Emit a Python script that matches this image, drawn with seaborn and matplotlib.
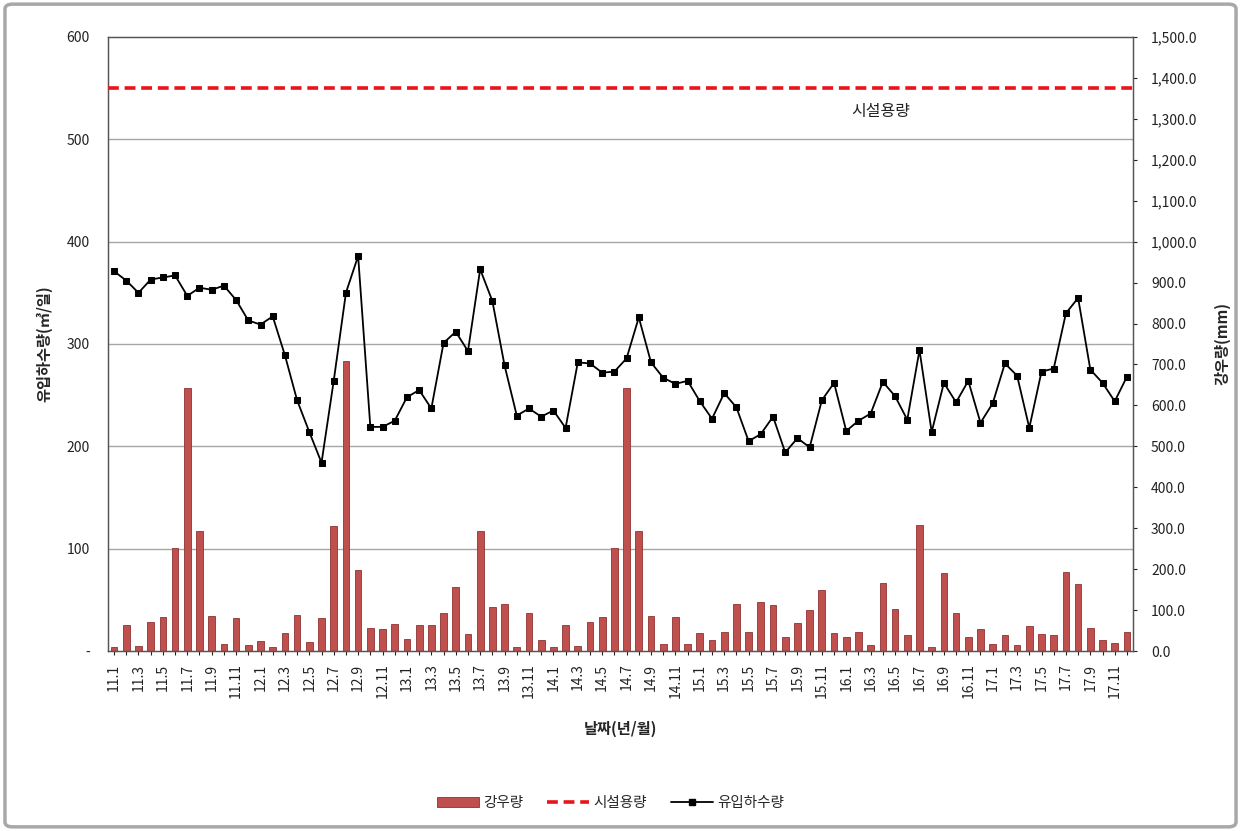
import matplotlib
matplotlib.use("Agg")
import matplotlib.pyplot as plt
import seaborn as sns
import numpy as np
from matplotlib.patches import Patch, FancyBboxPatch
from matplotlib.lines import Line2D
from matplotlib.ticker import FuncFormatter

# ---- data (2011.1 ~ 2017.12, monthly) ----
months = [f"{y}.{m}" for y in range(11, 18) for m in range(1, 13)]

# 유입하수량 (m3/day), left axis
inflow = [371, 362, 350, 363, 365, 367, 347, 355, 353, 357, 343, 323,
          319, 327, 289, 245, 214, 184, 264, 350, 386, 219, 219, 225,
          248, 255, 237, 301, 312, 293, 373, 342, 279, 230, 237, 229,
          235, 218, 282, 281, 272, 273, 286, 326, 282, 267, 261, 264,
          244, 227, 252, 238, 205, 212, 229, 194, 208, 199, 245, 262,
          215, 225, 232, 263, 249, 226, 294, 214, 262, 243, 264, 223,
          242, 281, 269, 218, 273, 276, 330, 345, 275, 262, 244, 268]

# 강우량 (mm), right axis
rain = [9, 64, 12, 72, 84, 251, 643, 293, 86, 16, 81, 15,
        24, 9, 45, 88, 23, 81, 305, 709, 198, 55, 54, 65,
        29, 64, 64, 92, 156, 41, 293, 108, 114, 11, 94, 27,
        9, 64, 12, 72, 84, 251, 643, 293, 86, 16, 83, 16,
        43, 27, 46, 114, 47, 120, 112, 33, 68, 99, 149, 45,
        35, 47, 15, 165, 102, 38, 308, 11, 191, 92, 33, 53,
        17, 38, 14, 62, 41, 38, 194, 163, 55, 27, 19, 47]

capacity = 550  # 시설용량

idx = np.arange(len(months))

# ---- plot ----
sns.set_style("white")
plt.rcParams["font.family"] = ["Noto Sans CJK KR", "DejaVu Sans"]

fig = plt.figure(figsize=(12.41, 8.31), dpi=100)
ax1 = fig.add_axes([0.087, 0.2166, 0.826, 0.7389])
ax2 = ax1.twinx()

bar_color = "#C0504D"
sns.barplot(x=idx, y=rain, ax=ax2, color=bar_color, saturation=1,
            width=0.55, edgecolor="#8E3432", linewidth=0.6, zorder=2)

# gridlines behind the bars (left-axis steps of 100 -> 250 mm)
for v in range(100, 600, 100):
    ax2.axhline(v * 2.5, color="#a6a6a6", lw=1.0, zorder=0)

sns.lineplot(x=idx, y=inflow, ax=ax1, color="black", marker="s",
             markersize=5, markeredgecolor="black", lw=1.3, zorder=3)
ax1.axhline(capacity, color="#E8141B", ls=(0, (3, 1.6)), lw=2.6, zorder=3)
ax1.text(62.8, 527, "시설용량", fontsize=11.5, ha="center", va="center", color="#222222")

ax1.set_zorder(ax2.get_zorder() + 1)
ax1.patch.set_visible(False)

ax1.set_ylim(0, 600)
ax1.set_yticks(range(0, 601, 100))
ax1.yaxis.set_major_formatter(FuncFormatter(lambda v, p: "-" if v == 0 else f"{int(v)}"))
ax2.set_ylim(0, 1500)
ax2.set_yticks(range(0, 1501, 100))
ax2.yaxis.set_major_formatter(FuncFormatter(lambda v, p: f"{v:,.1f}"))

ax1.set_xlim(-0.5, len(months) - 0.5)
ax1.set_xticks(idx)
ax1.set_xticklabels([m if i % 2 == 0 else "" for i, m in enumerate(months)],
                    rotation=90, fontsize=10)
ax2.set_xlabel("")
ax1.set_xlabel("날짜(년/월)", fontsize=11, fontweight="bold", labelpad=16)
ax1.set_ylabel("유입하수량(㎥/일)", fontsize=11, fontweight="bold", labelpad=10)
ax2.set_ylabel("강우량(mm)", fontsize=11, fontweight="bold", labelpad=12)

for ax in (ax1, ax2):
    ax.tick_params(axis="y", labelsize=10, colors="#222222", length=3, pad=6)
    ax.tick_params(axis="x", length=3, colors="#222222", pad=6)
    for s in ax.spines.values():
        s.set_color("#555555")
        s.set_linewidth(0.9)
ax1.tick_params(axis="y", left=False, pad=10)
ax2.tick_params(axis="y", right=True, direction="out", pad=10)
ax1.tick_params(axis="x", bottom=True, direction="out")

handles = [Patch(facecolor=bar_color, edgecolor="#8E3432", lw=0.6),
           Line2D([], [], color="#E8141B", ls=(0, (3, 1.6)), lw=2.6),
           Line2D([], [], color="black", lw=1.3, marker="s", markersize=5)]
fig.legend(handles, ["강우량", "시설용량", "유입하수량"], loc="center",
           bbox_to_anchor=(0.492, 0.034), ncol=3, frameon=False, fontsize=10.5,
           handlelength=2.9, columnspacing=1.6, handletextpad=0.3)

fig.patches.append(FancyBboxPatch((0.004, 0.005), 0.992, 0.99,
                                  boxstyle="round,pad=0,rounding_size=0.006",
                                  transform=fig.transFigure, fill=False,
                                  ec="#a8a8a8", lw=2.5))

fig.savefig("out.png", dpi=100)
